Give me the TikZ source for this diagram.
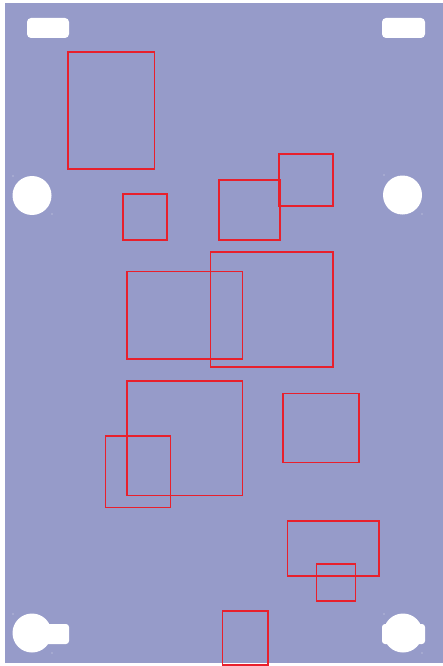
\documentclass[tikz,border=0pt]{standalone}
\definecolor{panel}{RGB}{150,155,201}
\definecolor{redline}{RGB}{232,32,44}
\definecolor{speck}{RGB}{215,217,235}
\begin{document}
\begin{tikzpicture}[x=1pt,y=-1pt,
  hole/.style={fill=white,draw=none},
  zone/.style={draw=redline,line width=1.1pt},
  dot/.style={fill=speck,draw=none}]
\useasboundingbox (0,0) rectangle (443,666);
\fill[white] (0,0) rectangle (443,666);
\fill[panel] (5,3) rectangle (443,663);
% top slots
\fill[hole,rounded corners=4pt] (27,18) rectangle (69,38);
\fill[hole,rounded corners=4pt] (382,18) rectangle (425,38);
% side holes
\fill[hole] (32,195.5) circle (19.5);
\fill[hole] (402.5,195) circle (19.5);
% bottom holes
\fill[hole] (32,633) circle (19.5);
\fill[hole,rounded corners=3pt] (32,624) rectangle (69,644);
\fill[hole] (403,633) circle (19.5);
\fill[hole,rounded corners=3pt] (382,624) rectangle (425,644);
% specks
\foreach \p in {(13,176),(52,214),(384,175),(422,214),(13,614),(52,653),(384,614),(422,653)}
  \fill[dot] \p circle (0.7);
% red zones
\draw[zone] (68,52) rectangle (154.5,169);
\draw[zone] (123,194) rectangle (167,240);
\draw[zone] (219,180) rectangle (280,240);
\draw[zone] (279,154) rectangle (333,206);
\draw[zone] (127,271.5) rectangle (242.5,359);
\draw[zone] (210.5,252) rectangle (333,367);
\draw[zone] (127,381) rectangle (242.5,495.5);
\draw[zone] (105.5,436) rectangle (170.5,507.5);
\draw[zone] (283,393.5) rectangle (359,462.5);
\draw[zone] (287.5,521) rectangle (379,576);
\draw[zone] (316.5,564) rectangle (355.5,601);
\draw[zone] (222.5,611) rectangle (268,665);
\end{tikzpicture}
\end{document}
